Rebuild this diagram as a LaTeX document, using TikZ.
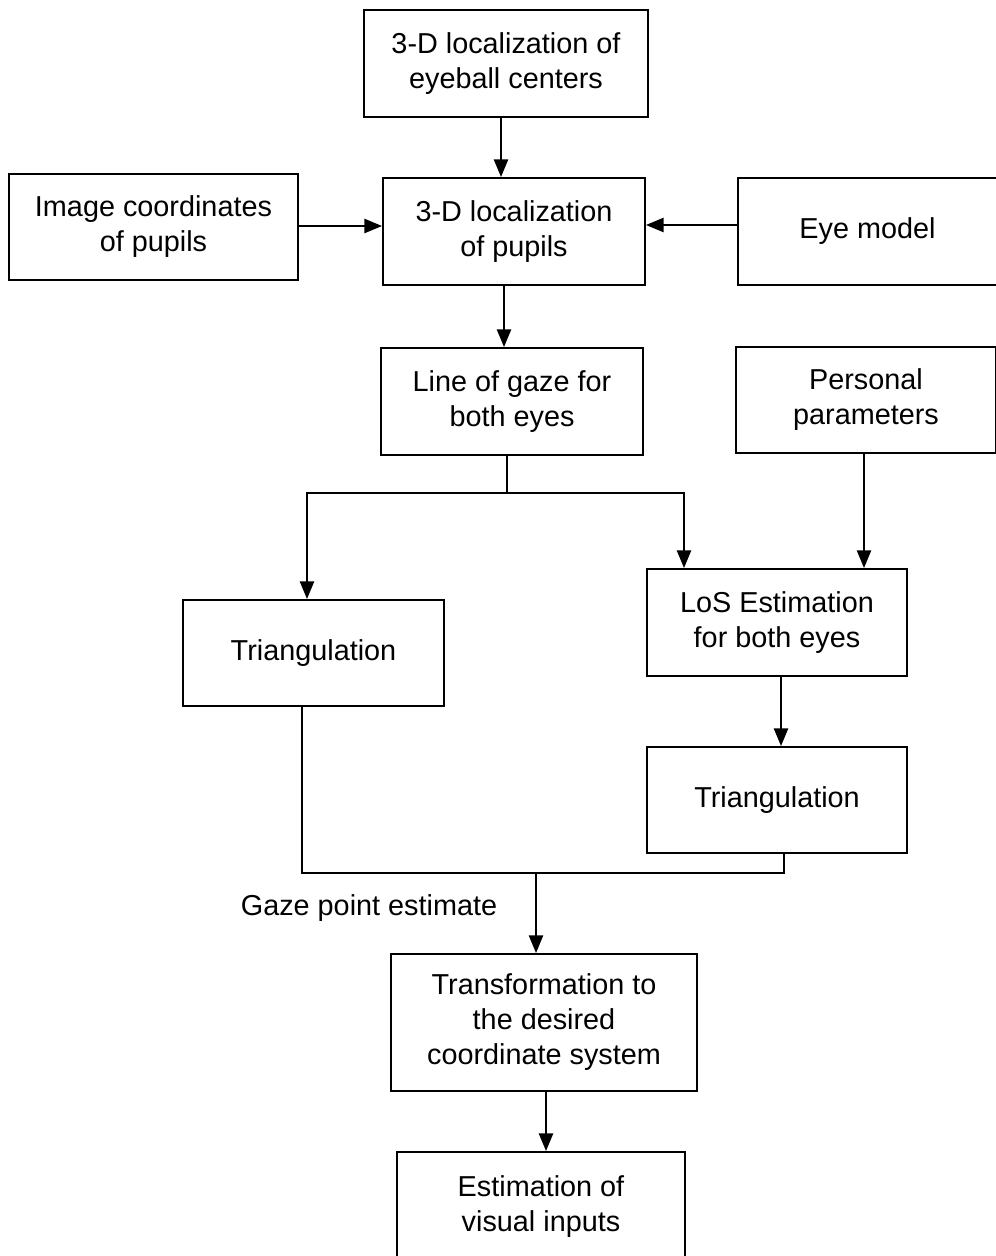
\documentclass[tikz,border=0pt]{standalone}
\usepackage{fontspec}
\setmainfont{Liberation Sans}
\usetikzlibrary{arrows.meta}

\begin{document}
\begin{tikzpicture}[x=0.02cm, y=-0.02cm,
        box/.style={draw, line width=1.1pt, align=center, inner sep=0pt,
            font=\fontsize{16.4pt}{19.9pt}\selectfont},
        arr/.style={-{Triangle[length=10pt,width=8pt]}},
        line width=1.1pt]
    \useasboundingbox (0,0) rectangle (996,1256);

    \node[box, minimum width=5.68cm, minimum height=2.14cm] (eyeball) at (506,63.5){3-D localization of\\eyeball centers};
    \node[box, minimum width=5.78cm, minimum height=2.12cm] (imgcoord) at (153.5,227){Image coordinates\\of pupils};
    \node[box, minimum width=5.24cm, minimum height=2.14cm] (pupils) at (514,231.5){3-D localization\\of pupils};
    \node[box, minimum width=5.18cm, minimum height=2.14cm] (eyemodel) at (867.5,231.5){Eye model};
    \node[box, minimum width=5.24cm, minimum height=2.14cm] (gaze) at (512,401.5){Line of gaze for\\both eyes};
    \node[box, minimum width=5.2cm, minimum height=2.12cm] (personal) at (866,400){Personal\\parameters};
    \node[box, minimum width=5.22cm, minimum height=2.12cm] (triL) at (313.5,653){Triangulation};
    \node[box, minimum width=5.2cm, minimum height=2.14cm] (los) at (777,622.5){LoS Estimation\\for both eyes};
    \node[box, minimum width=5.2cm, minimum height=2.12cm] (triR) at (777,800){Triangulation};
    \node[box, minimum width=6.12cm, minimum height=2.74cm] (transform) at (544,1022.5){Transformation to\\the desired\\coordinate system};
    \node[box, minimum width=5.76cm, minimum height=2.2cm] (visual) at (541,1207){Estimation of\\visual inputs};
    \node[font=\fontsize{16.4pt}{19.9pt}\selectfont] (gpe) at (369,908){Gaze point estimate};

    \coordinate (split) at (507,493);
    \coordinate (brL) at (307,493);
    \coordinate (brR) at (684,493);
    \coordinate (mL) at (302,873);
    \coordinate (mR) at (784,873);
    \coordinate (merge) at (536,873);

    \draw[arr] (501,0 |- eyeball.south) -- (501,0 |- pupils.north);
    \draw[arr] (imgcoord.east |- 0,226) -- (pupils.west |- 0,226);
    \draw[arr] (eyemodel.west |- 0,225) -- (pupils.east |- 0,225);
    \draw[arr] (504,0 |- pupils.south) -- (504,0 |- gaze.north);

    \draw (split |- gaze.south) -- (split);
    \draw[arr] (split) -- (brL) -- (brL |- triL.north);
    \draw[arr] (split) -- (brR) -- (brR |- los.north);
    \draw[arr] (864,0 |- personal.south) -- (864,0 |- los.north);
    \draw[arr] (781,0 |- los.south) -- (781,0 |- triR.north);

    \draw (mL |- triL.south) -- (mL) -- (mR) -- (mR |- triR.south);
    \draw[arr] (merge) -- (merge |- transform.north);
    \draw[arr] (546,0 |- transform.south) -- (546,0 |- visual.north);
\end{tikzpicture}
\end{document}
